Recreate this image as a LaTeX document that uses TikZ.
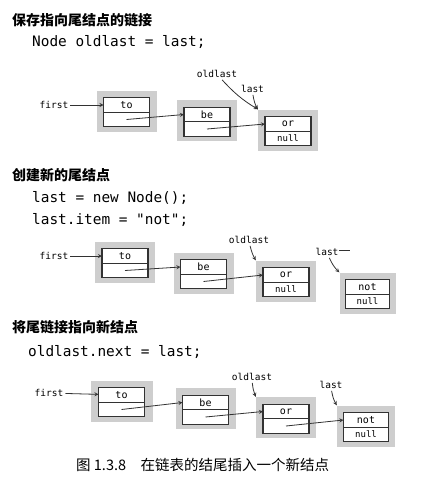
\documentclass[tikz,border=0pt]{standalone}
\usepackage{fontspec}
\setmonofont{DejaVu Sans Mono}
\newfontfamily\cjk{Noto Sans CJK SC}
\usepackage{xcolor}
\usetikzlibrary{positioning}

\definecolor{shade}{RGB}{206,206,206}
\definecolor{edge}{RGB}{50,50,50}

\begin{document}
\begin{tikzpicture}[x=1pt, y=-1pt]
    % Styles
    \tikzstyle{frame} = [rectangle, fill=shade, minimum width=60pt, minimum height=41pt, inner sep=0pt]
    \tikzstyle{cell} = [rectangle, draw=edge, line width=1.3pt, fill=white, minimum width=46pt, minimum height=14.5pt, inner sep=0pt, outer sep=0pt, font=\ttfamily\fontsize{10}{12}\selectfont]
    \tikzstyle{ptr} = [thick, ->, >=stealth, draw=edge]
    \tikzstyle{tag} = [font=\ttfamily\fontsize{9.5}{11}\selectfont, inner sep=2pt]
    \tikzstyle{title} = [anchor=west, inner sep=0pt, font=\cjk\bfseries\fontsize{14}{16}\selectfont]
    \tikzstyle{code} = [anchor=west, inner sep=0pt, font=\ttfamily\fontsize{14.4}{18}\selectfont]

    \useasboundingbox (0,0) rectangle (424,487);

    % Save a link to the last node
    \node[title] (head1) at (12,20) {保存指向尾结点的链接};
    \node[code] (code1) at (32,42) {Node oldlast = last;};

    \node[frame] (to1) at (126.5,111) {};
    \node[cell] (to1a) at ([yshift=6pt]to1.center) {to};
    \node[cell, below=0pt of to1a] (to1b) {};
    \node[frame] (be1) at (207,120.5) {};
    \node[cell] (be1a) at ([yshift=6pt]be1.center) {be};
    \node[cell, below=0pt of be1a] (be1b) {};
    \node[frame] (or1) at (288,130) {};
    \node[cell] (or1a) at ([yshift=6pt]or1.center) {or};
    \node[cell, below=0pt of or1a, font=\ttfamily\fontsize{9}{11}\selectfont] (or1b) {null};

    \node[tag] (first1) at (54,105) {first};
    \node[tag] (old1) at (217,74) {oldlast};
    \node[tag] (last1) at (252.5,89) {last};

    \draw[ptr] (first1) -- (to1a);
    \draw[ptr] (to1b.center) -- (be1a.west);
    \draw[ptr] (be1b.center) -- (or1a.west);
    \draw[ptr] (old1) to[bend right=8] (or1.north west);
    \draw[ptr] (last1) to[bend right=10] (or1.north west);

    % Create a new last node
    \node[title] (head2) at (12,175) {创建新的尾结点};
    \node[code] (code2a) at (32,198) {last = new Node();};
    \node[code] (code2b) at (32,220) {last.item = "not";};

    \node[frame] (to2) at (125,262) {};
    \node[cell] (to2a) at ([yshift=6pt]to2.center) {to};
    \node[cell, below=0pt of to2a] (to2b) {};
    \node[frame] (be2) at (203.5,273) {};
    \node[cell] (be2a) at ([yshift=6pt]be2.center) {be};
    \node[cell, below=0pt of be2a] (be2b) {};
    \node[frame] (or2) at (286,281) {};
    \node[cell] (or2a) at ([yshift=6pt]or2.center) {or};
    \node[cell, below=0pt of or2a, font=\ttfamily\fontsize{9}{11}\selectfont] (or2b) {null};
    \node[frame, minimum width=56pt] (not2) at (367.5,293) {};
    \node[cell, minimum width=44pt] (not2a) at ([yshift=6pt]not2.center) {not};
    \node[cell, minimum width=44pt, below=0pt of not2a, font=\ttfamily\fontsize{9}{11}\selectfont] (not2b) {null};

    \node[tag] (first2) at (54,256) {first};
    \node[tag] (old2) at (249,240) {oldlast};
    \node[tag] (last2) at (327,252) {last};

    \draw[ptr] (first2) -- (to2a);
    \draw[ptr] (to2b.center) -- (be2a.west);
    \draw[ptr] (be2b.center) -- (or2a.west);
    \draw[ptr] (old2) to[bend right=8] (or2.north west);
    \draw[ptr] (last2) to[bend right=10] (not2.north west);
    \draw[edge, thin] ([xshift=-2pt, yshift=1.5pt]last2.east) -- ++(11,0);

    % Link the old last node to the new one
    \node[title] (head3) at (12,327) {将尾链接指向新结点};
    \node[code] (code3) at (28,352) {oldlast.next = last;};

    \node[frame, minimum width=62pt] (to3) at (121.5,401) {};
    \node[cell] (to3a) at ([yshift=6pt]to3.center) {to};
    \node[cell, below=0pt of to3a] (to3b) {};
    \node[frame] (be3) at (205.5,408.5) {};
    \node[cell] (be3a) at ([yshift=6pt]be3.center) {be};
    \node[cell, below=0pt of be3a] (be3b) {};
    \node[frame] (or3) at (286,417.5) {};
    \node[cell] (or3a) at ([yshift=6pt]or3.center) {or};
    \node[cell, below=0pt of or3a] (or3b) {};
    \node[frame, minimum width=58pt] (not3) at (366,426) {};
    \node[cell, minimum width=45pt] (not3a) at ([yshift=6pt]not3.center) {not};
    \node[cell, minimum width=45pt, below=0pt of not3a, font=\ttfamily\fontsize{9}{11}\selectfont] (not3b) {null};

    \node[tag] (first3) at (49,393) {first};
    \node[tag] (old3) at (252,377) {oldlast};
    \node[tag] (last3) at (331,385) {last};

    \draw[ptr] (first3) -- (to3a);
    \draw[ptr] (to3b.center) -- (be3a.west);
    \draw[ptr] (be3b.center) -- (or3a.west);
    \draw[ptr] (or3b.center) -- (not3a.west);
    \draw[ptr] (old3) to[bend right=8] (or3.north west);
    \draw[ptr] (last3) to[bend right=10] (not3.north west);

    % Caption
    \node[anchor=west, inner sep=0pt, font=\cjk\fontsize{14.5}{16}\selectfont] (caption) at (76,465) {图 1.3.8\quad 在链表的结尾插入一个新结点};

\end{tikzpicture}
\end{document}
